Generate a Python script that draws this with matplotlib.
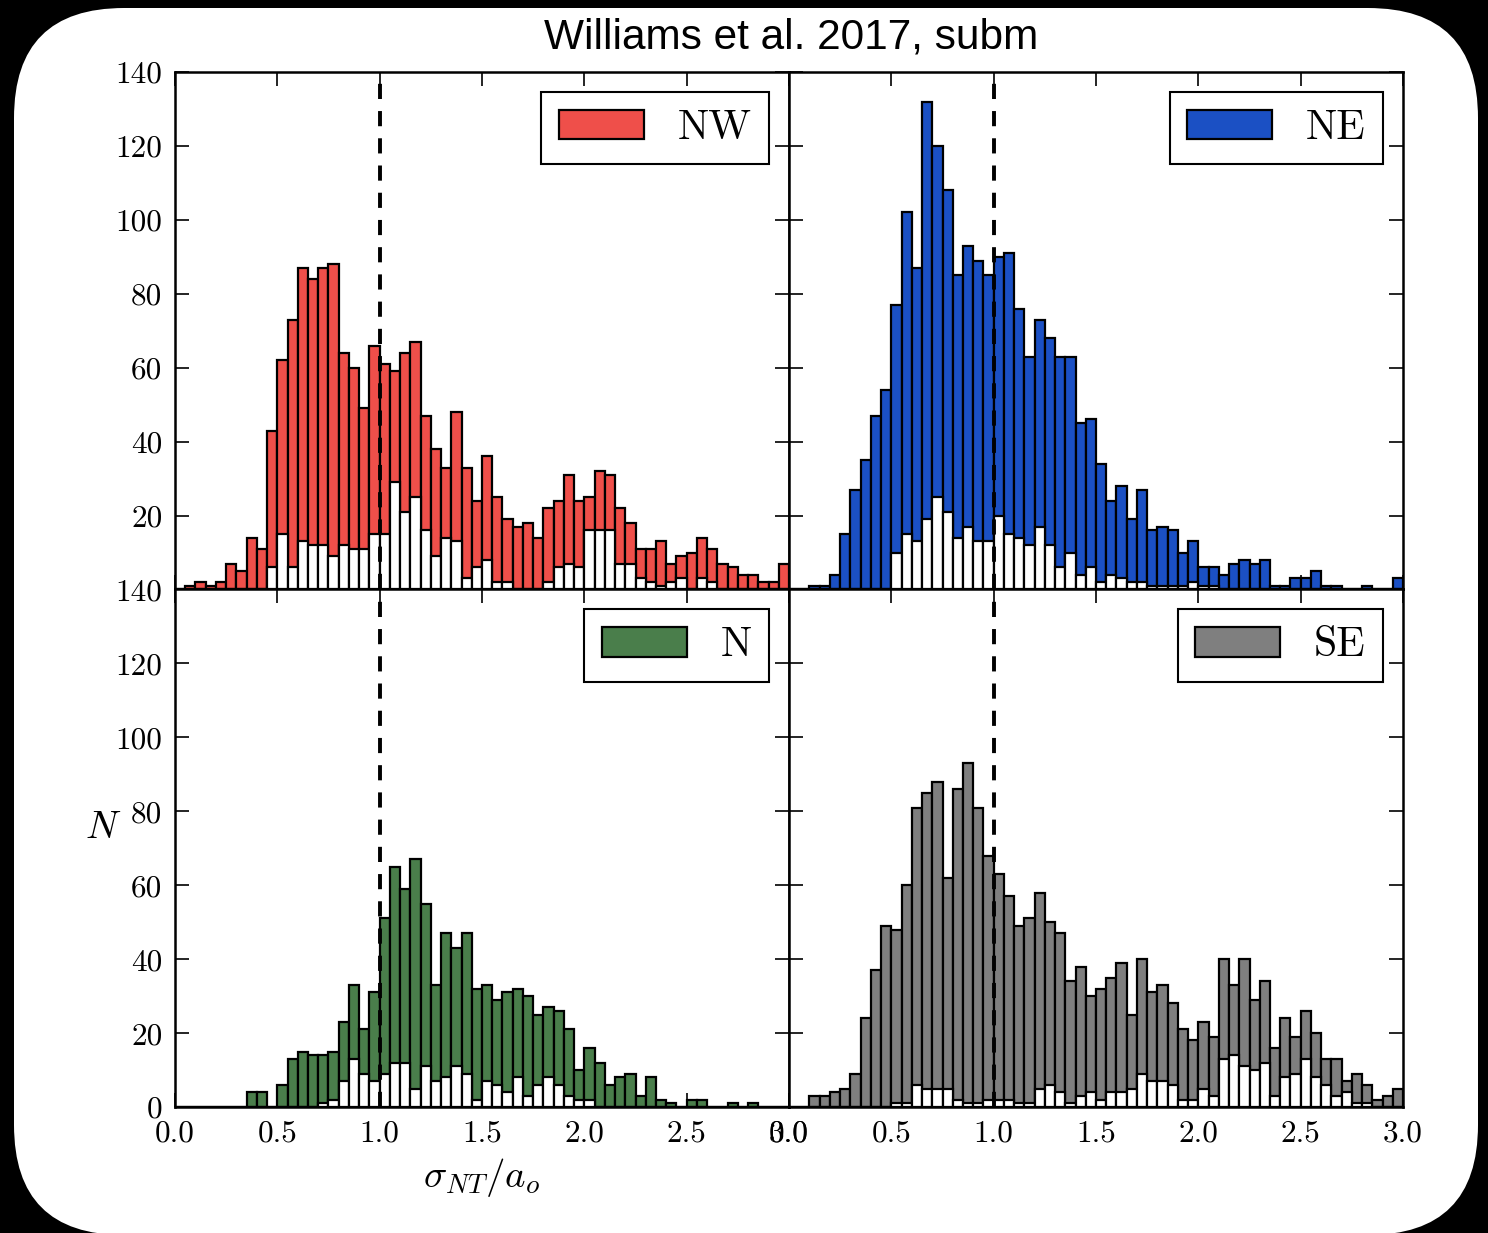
import numpy as np
import matplotlib.pyplot as plt
from matplotlib.patches import FancyBboxPatch
from matplotlib.transforms import IdentityTransform

plt.rcParams['font.family'] = 'cmr10'
plt.rcParams['mathtext.fontset'] = 'cm'
plt.rcParams['axes.unicode_minus'] = False

# bin edges: 0 to 3 in steps of 0.05 (60 bins)
bin_left = np.arange(60) * 0.05
bin_width = 0.05

nw_all = [0, 1, 2, 1, 2, 7, 5, 14, 11, 43, 62, 73, 87, 84, 87, 88, 64, 60, 49, 66,
          61, 59, 64, 67, 47, 38, 33, 48, 33, 24, 36, 25, 19, 17, 18, 14, 22, 24, 31, 24,
          25, 32, 31, 22, 18, 11, 11, 13, 7, 9, 10, 14, 11, 7, 6, 4, 4, 2, 2, 7]
nw_sub = [0, 0, 0, 0, 0, 0, 0, 0, 0, 6, 15, 6, 13, 12, 12, 9, 12, 11, 11, 15,
          15, 29, 21, 25, 16, 9, 14, 13, 3, 6, 8, 2, 2, 0, 0, 0, 2, 6, 7, 6,
          16, 16, 16, 7, 7, 3, 2, 1, 2, 3, 0, 3, 2, 0, 0, 0, 0, 0, 0, 0]

ne_all = [0, 0, 1, 1, 4, 15, 27, 35, 47, 54, 77, 102, 87, 132, 120, 108, 85, 93, 89, 85,
          90, 91, 76, 63, 73, 68, 63, 63, 45, 46, 34, 24, 28, 19, 27, 16, 17, 16, 10, 13,
          6, 6, 4, 7, 8, 7, 8, 1, 1, 3, 3, 5, 1, 1, 0, 0, 1, 0, 0, 3]
ne_sub = [0, 0, 0, 0, 0, 0, 0, 0, 0, 0, 10, 15, 13, 19, 25, 21, 14, 17, 13, 13,
          20, 15, 14, 12, 17, 12, 6, 10, 4, 6, 2, 4, 3, 2, 2, 1, 1, 1, 1, 2,
          1, 1, 0, 0, 0, 0, 0, 0, 0, 0, 0, 0, 0, 0, 0, 0, 0, 0, 0, 0]

n_all = [0, 0, 0, 0, 0, 0, 0, 4, 4, 0, 6, 13, 15, 14, 14, 15, 23, 33, 21, 31,
         51, 65, 59, 67, 55, 33, 47, 43, 47, 32, 33, 29, 31, 32, 30, 25, 27, 26, 21, 10,
         16, 12, 6, 8, 9, 3, 8, 2, 1, 0, 2, 2, 0, 0, 1, 0, 1, 0, 0, 0]
n_sub = [0, 0, 0, 0, 0, 0, 0, 0, 0, 0, 0, 0, 0, 0, 1, 2, 7, 13, 9, 7,
         9, 12, 12, 5, 11, 7, 8, 11, 9, 2, 7, 6, 4, 8, 3, 6, 8, 6, 3, 2,
         2, 0, 0, 0, 0, 0, 0, 0, 0, 0, 0, 0, 0, 0, 0, 0, 0, 0, 0, 0]

se_all = [0, 0, 3, 3, 4, 5, 9, 24, 37, 49, 48, 60, 81, 85, 88, 62, 86, 93, 81, 68,
          63, 57, 49, 51, 58, 50, 47, 34, 38, 30, 32, 35, 39, 25, 40, 31, 33, 28, 21, 18,
          23, 19, 40, 33, 40, 29, 34, 16, 24, 19, 26, 20, 13, 13, 7, 9, 6, 2, 3, 5]
se_sub = [0, 0, 0, 0, 0, 0, 0, 0, 0, 0, 1, 1, 6, 5, 5, 5, 2, 1, 1, 2,
          2, 2, 1, 1, 5, 6, 4, 1, 3, 4, 2, 4, 4, 5, 9, 7, 7, 6, 2, 2,
          5, 3, 13, 14, 11, 10, 12, 3, 8, 9, 13, 8, 6, 3, 4, 1, 1, 0, 0, 0]

regions = ['NW', 'NE', 'N', 'SE']
colors = ['#EF4F4A', '#1B50C4', '#4A7E4B', '#7F7F7F']
all_counts = [nw_all, ne_all, n_all, se_all]
sub_counts = [nw_sub, ne_sub, n_sub, se_sub]

xticks = [0.0, 0.5, 1.0, 1.5, 2.0, 2.5, 3.0]
xticklabels = ['0.0', '0.5', '1.0', '1.5', '2.0', '2.5', '3.0']
yticks = [0, 20, 40, 60, 80, 100, 120, 140]
yticklabels = ['0', '20', '40', '60', '80', '100', '120', '140']

fig = plt.figure(figsize=(14.88, 12.33), dpi=100, facecolor='black')

# white rounded card on the black background (pixel coords)
card = FancyBboxPatch((14, -2), 1464, 1227, boxstyle='round,pad=0,rounding_size=110',
                      facecolor='white', edgecolor='none', transform=IdentityTransform(),
                      zorder=-1)
fig.patches.append(card)

axs = fig.subplots(2, 2)
fig.subplots_adjust(left=0.1176, right=0.9429, top=0.9416, bottom=0.1022,
                    wspace=0, hspace=0)

for k, ax in enumerate(axs.flat):
    ax.bar(bin_left, all_counts[k], width=bin_width, align='edge', color=colors[k],
           edgecolor='black', linewidth=1.6, label=regions[k])
    ax.bar(bin_left, sub_counts[k], width=bin_width, align='edge', color='white',
           edgecolor='black', linewidth=1.6)
    ax.axvline(1.0, color='black', linestyle=(0, (3.9, 3.1)), linewidth=2.8, zorder=5)
    ax.set_xlim(0, 3)
    ax.set_ylim(0, 140)
    ax.set_xticks(xticks)
    ax.set_yticks(yticks)
    ax.tick_params(direction='in', top=True, right=True, length=10, width=1.2,
                   labelsize=22.5, pad=9)
    for s in ax.spines.values():
        s.set_linewidth(1.8)
    if k < 2:
        ax.set_xticklabels([])
    else:
        ax.set_xticklabels(xticklabels)
    if k % 2 == 1:
        ax.set_yticklabels([])
    elif k == 0:
        # the 0 of the top panel sits under the 140 of the lower one
        ax.set_yticklabels([''] + yticklabels[1:])
    else:
        ax.set_yticklabels(yticklabels)
    leg = ax.legend(loc='upper right', fontsize=30, handlelength=2.05, handleheight=0.72,
                    handletextpad=0.8, borderpad=0.42, borderaxespad=0.48,
                    fancybox=False, framealpha=1)
    leg.get_frame().set_edgecolor('black')
    leg.get_frame().set_linewidth(1.5)

ax = axs[1, 0]
ax.set_xlabel(r'$\sigma_{NT}/a_o$', fontsize=28, va='center')
ax.xaxis.set_label_coords(0.5, -0.137)
ax.set_ylabel(r'$N$', fontsize=28, rotation=0, ha='center', va='center')
ax.yaxis.set_label_coords(-0.117, 0.539)

fig.text(791 / 1488, 1 - 38 / 1233, 'Williams et al. 2017, subm', ha='center', va='center',
         fontsize=30.5, family='Liberation Sans')

fig.savefig('out.png', dpi=100, facecolor='black')
